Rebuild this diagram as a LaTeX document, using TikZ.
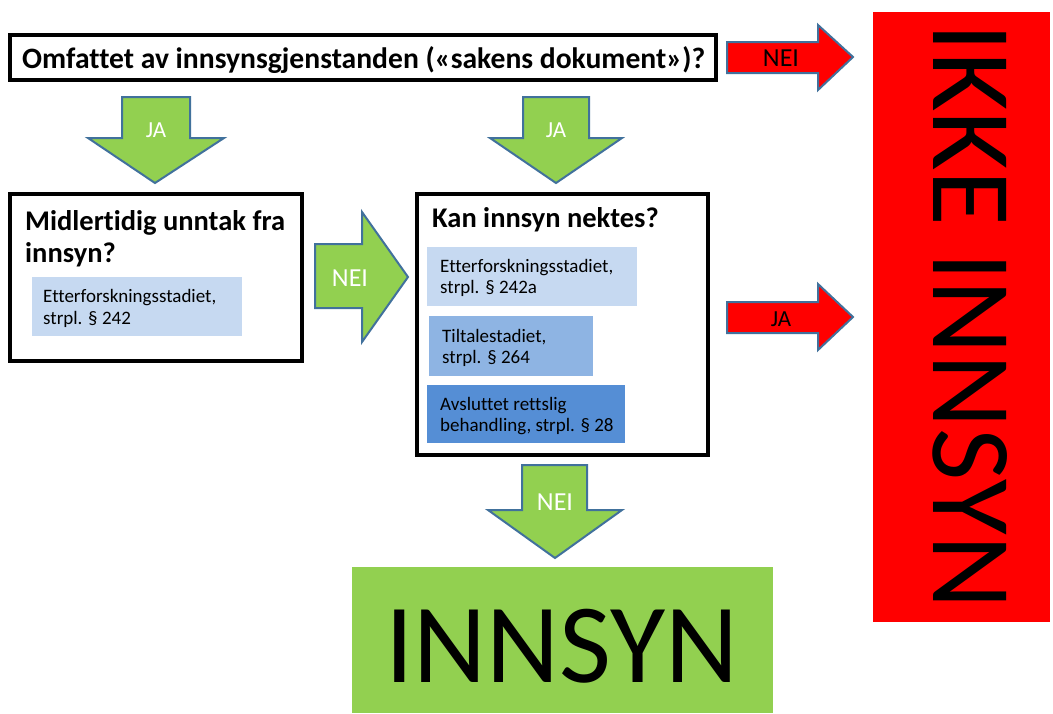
\documentclass[tikz,border=0pt]{standalone}
\usepackage{fontspec}
\setmainfont{Carlito}[Ligatures=NoCommon]
\definecolor{grn}{HTML}{92D050}
\definecolor{arrline}{HTML}{41719C}
\definecolor{lb1}{HTML}{C6D9F1}
\definecolor{lb2}{HTML}{8EB4E3}
\definecolor{lb3}{HTML}{558ED5}
\begin{document}
\begin{tikzpicture}[x=1pt,y=-1pt]
\tikzset{
  qbox/.style={draw=black, line width=3.5pt, fill=white},
  garrow/.style={fill=grn, draw=arrline, line width=2pt, line join=miter},
  rarrow/.style={fill=red, draw=arrline, line width=2pt, line join=miter},
  txt/.style={inner sep=0pt, anchor=base west},
  ttl/.style={txt, font=\fontsize{28.5}{32}\selectfont\bfseries},
  small/.style={txt, font=\fontsize{19}{22}\selectfont},
  albl/.style={inner sep=0pt, font=\fontsize{26}{30}\selectfont},
  sub/.style={draw=none, inner sep=0pt}
}
\useasboundingbox (0,0) rectangle (1053,713);
\fill[white] (0,0) rectangle (1053,713);

% top question box
\draw[qbox] (10,35) rectangle (716,80);
\node[txt, font=\fontsize{29.6}{33}\selectfont\bfseries] (q1) at (22,68) {Omfattet av innsynsgjenstanden («sakens dokument»)?};

% red NEI arrow
\draw[rarrow] (727,42) -- (818,42) -- (818,25) -- (853,57) -- (818,90) -- (818,73) -- (727,73) -- cycle;
\node[albl, text=black] (nei1) at (781,58) {NEI};

% red result box
\fill[red] (873,12) rectangle (1050,622);
\node[inner sep=0pt, rotate=-90, font=\fontsize{114}{120}\selectfont] (ikke) at (970,316) {IKKE INNSYN};

% green JA arrows
\draw[garrow] (122,97) -- (190,97) -- (190,138) -- (224,138) -- (155,183) -- (88,138) -- (122,138) -- cycle;
\node[albl, text=white, font=\fontsize{23}{26}\selectfont] (ja1) at (156,130) {JA};
\draw[garrow] (523,97) -- (589,97) -- (589,138) -- (622,138) -- (556,183) -- (490,138) -- (523,138) -- cycle;
\node[albl, text=white, font=\fontsize{23}{26}\selectfont] (ja2) at (556,130) {JA};

% Midlertidig box
\draw[qbox] (10,194) rectangle (302,361);
\node[ttl] (m1) at (25,230) {Midlertidig unntak fra};
\node[ttl] (m2) at (25,262) {innsyn?};
\fill[lb1] (32,277) rectangle (242,336);
\node[small] (m3) at (43,302) {Etterforskningsstadiet,};
\node[small] (m4) at (43,324) {strpl. § 242};

% green NEI right arrow
\draw[garrow] (315,244) -- (362,244) -- (362,212) -- (408,277) -- (362,342) -- (362,308) -- (315,308) -- cycle;
\node[albl, text=white] (nei2) at (350,278) {NEI};

% Kan box
\draw[qbox] (417,194) rectangle (708,455);
\node[ttl] (k1) at (432,227) {Kan innsyn nektes?};
\fill[lb1] (427,247) rectangle (637,306);
\node[small] (k2) at (440,272) {Etterforskningsstadiet,};
\node[small] (k3) at (440,293) {strpl. § 242a};
\fill[lb2] (429,316) rectangle (593,376);
\node[small] (k4) at (442,342) {Tiltalestadiet,};
\node[small] (k5) at (442,363) {strpl. § 264};
\fill[lb3] (427,385) rectangle (625,443);
\node[small] (k6) at (440,410) {Avsluttet rettslig};
\node[small] (k7) at (440,431) {behandling, strpl. § 28};

% red JA arrow
\draw[rarrow] (727,302) -- (818,302) -- (818,284) -- (853,317) -- (818,350) -- (818,333) -- (727,333) -- cycle;
\node[albl, text=black, font=\fontsize{23}{26}\selectfont] (ja3) at (781,319) {JA};

% green NEI down arrow
\draw[garrow] (522,465) -- (587,465) -- (587,510) -- (622,510) -- (555,558) -- (488,510) -- (522,510) -- cycle;
\node[albl, text=white] (nei3) at (555,502) {NEI};

% INNSYN box
\fill[grn] (352,567) rectangle (773,713);
\node[inner sep=0pt, font=\fontsize{113}{120}\selectfont] (innsyn) at (562,646) {INNSYN};
\end{tikzpicture}
\end{document}
